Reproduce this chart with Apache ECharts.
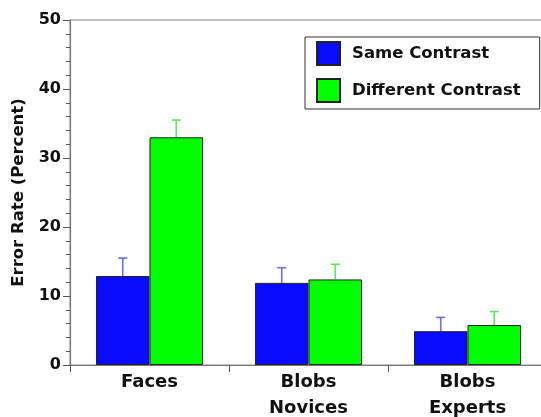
<!DOCTYPE html>
<html>
<head>
<meta charset="utf-8">
<script src="https://cdn.jsdelivr.net/npm/echarts@6/dist/echarts.min.js"></script>
<style>html,body{margin:0;padding:0;background:#fff;}#c{width:541px;height:417px;}</style>
</head>
<body>
<div id="c"></div>
<script>
const categories = ['Faces', 'Blobs\nNovices', 'Blobs\nExperts'];
const seriesNames = ['Same Contrast', 'Different Contrast'];
const sameValues = [12.9, 11.9, 4.9];
const diffValues = [33.0, 12.4, 5.8];
const sameErrors = [2.6, 2.2, 2.0];
const diffErrors = [2.5, 2.2, 1.95];
const yTicks = { min: 0, max: 50, interval: 10 };

const FONT = 'DejaVu Sans';
const CAT_GAP = 0.327;

function errSeries(values, errors, idx, color) {
  return {
    type: 'custom',
    silent: true,
    z: 1,
    data: values.map((v, i) => [i, v, v + errors[i]]),
    renderItem: function (params, api) {
      const catW = api.size([1, 0])[0];
      const barW = catW * (1 - CAT_GAP) / 2;
      const base = api.coord([api.value(0), api.value(1)]);
      const top = api.coord([api.value(0), api.value(2)]);
      const x = base[0] + (idx === 0 ? -barW / 2 : barW / 2);
      const cap = 4.5;
      const st = { stroke: color, lineWidth: 1.6 };
      return {
        type: 'group',
        children: [
          { type: 'line', shape: { x1: x, y1: base[1], x2: x, y2: top[1] }, style: st },
          { type: 'line', shape: { x1: x - cap, y1: top[1], x2: x + cap, y2: top[1] }, style: st }
        ]
      };
    }
  };
}

const chart = echarts.init(document.getElementById('c'));
chart.setOption({
  animation: false,
  backgroundColor: '#fff',
  textStyle: { fontFamily: FONT },
  grid: { left: 70, right: -6, top: 20, bottom: 52, outerBoundsMode: 'none', containLabel: false, show: true, borderColor: '#888', borderWidth: 1, backgroundColor: 'transparent' },
  legend: {
    data: seriesNames,
    orient: 'vertical',
    left: 305, top: 37,
    itemWidth: 23, itemHeight: 23, itemGap: 12,
    padding: [4, 19, 6, 11],
    borderColor: '#333', borderWidth: 1,
    backgroundColor: '#fff',
    icon: 'rect',
    textStyle: { fontFamily: FONT, fontWeight: 'bold', fontSize: 16.5, color: '#111', padding: [0, 0, 0, 7] }
  },
  xAxis: {
    type: 'category',
    data: categories,
    axisLine: { lineStyle: { color: '#777', width: 1.2 } },
    axisTick: { show: true, length: 7, lineStyle: { color: '#555' } },
    axisLabel: { fontFamily: FONT, fontWeight: 'bold', fontSize: 18, color: '#111', lineHeight: 26, margin: 4 }
  },
  yAxis: {
    type: 'value',
    min: yTicks.min, max: yTicks.max, interval: yTicks.interval,
    name: 'Error Rate (Percent)',
    nameLocation: 'middle',
    nameGap: 43,
    nameTextStyle: { fontFamily: FONT, fontWeight: 'bold', fontSize: 16.5, color: '#111' },
    axisLine: { show: true, lineStyle: { color: '#777', width: 1.2 } },
    axisTick: { show: true, length: 7, lineStyle: { color: '#555' } },
    minorTick: { show: true, splitNumber: 5, length: 4, lineStyle: { color: '#555' } },
    splitLine: { show: false },
    axisLabel: { fontFamily: FONT, fontWeight: 'bold', fontSize: 16, color: '#111', margin: 9 }
  },
  series: [
    {
      name: seriesNames[0], type: 'bar', data: sameValues, barGap: '0%', barCategoryGap: (CAT_GAP * 100) + '%', z: 2,
      itemStyle: { color: '#0a0aff', borderColor: '#222', borderWidth: 1 }
    },
    {
      name: seriesNames[1], type: 'bar', data: diffValues, barGap: '0%', barCategoryGap: (CAT_GAP * 100) + '%', z: 2,
      itemStyle: { color: '#00ff00', borderColor: '#222', borderWidth: 1 }
    },
    errSeries(sameValues, sameErrors, 0, '#6a6aff'),
    errSeries(diffValues, diffErrors, 1, '#55ee55')
  ]
});
</script>
</body>
</html>
